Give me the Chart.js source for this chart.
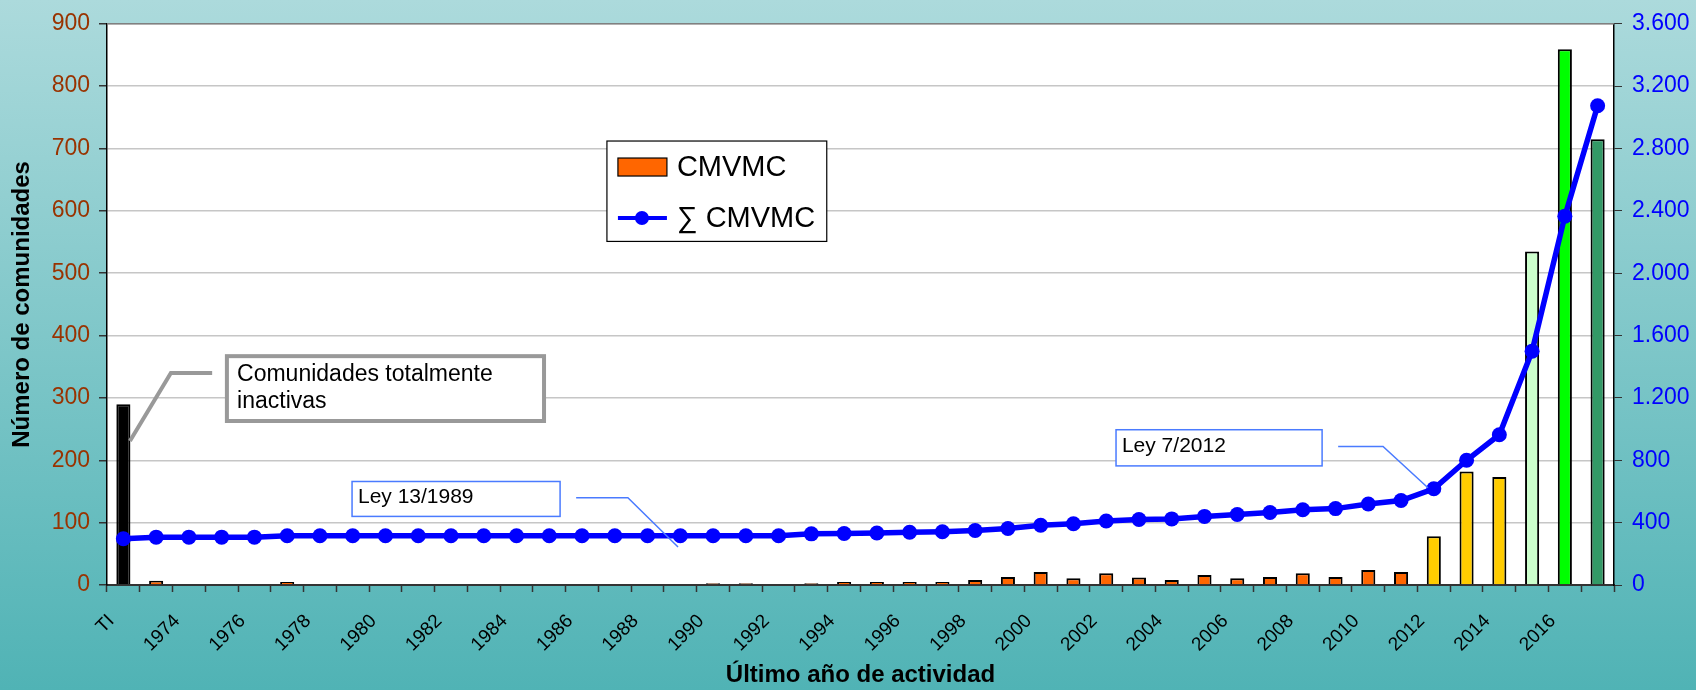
<!DOCTYPE html>
<html>
<head>
<meta charset="utf-8">
<script src="https://cdn.jsdelivr.net/npm/chart.js@4.4.0/dist/chart.umd.min.js"></script>
<style>
    html, body { margin: 0; padding: 0; }
</style>
</head>
<body>
<canvas id="chartCMVMC" width="1696" height="690"></canvas>
<script>
// datos
var categorias = ['TI', '1973', '1974', '1975', '1976', '1977', '1978', '1979', '1980', '1981',
    '1982', '1983', '1984', '1985', '1986', '1987', '1988', '1989', '1990', '1991',
    '1992', '1993', '1994', '1995', '1996', '1997', '1998', '1999', '2000', '2001',
    '2002', '2003', '2004', '2005', '2006', '2007', '2008', '2009', '2010', '2011',
    '2012', '2013', '2014', '2015', '2016', '2017'];

var cmvmc = [290, 7, 0, 0, 0, 5, 0, 0, 0, 0,
    0, 0, 0, 0, 0, 0, 0, 0, 3, 3,
    0, 3, 5, 5, 5, 5, 8, 13, 21, 11,
    19, 12, 8, 16, 11, 13, 19, 13, 24, 21,
    78, 182, 173, 535, 859, 715];

var sumaCmvmc = [297, 307, 307, 307, 307, 316, 316, 316, 316, 316,
    316, 316, 316, 316, 316, 316, 316, 316, 316, 316,
    316, 328, 330, 334, 338, 342, 350, 362, 383, 393,
    411, 420, 424, 440, 452, 465, 483, 490, 520, 542,
    617, 800, 964, 1500, 2366, 3074];

var ticksIzq = [0, 100, 200, 300, 400, 500, 600, 700, 800, 900];
var ticksDer = [0, 400, 800, 1200, 1600, 2000, 2400, 2800, 3200, 3600];

// colores de las barras segun la categoria
function colorBarra(cat) {
    if (cat === 'TI') return '#000000';
    if (cat === '2015') return '#CCFFCC';
    if (cat === '2016') return '#00FF00';
    if (cat === '2017') return '#339966';
    if (cat === '2012' || cat === '2013' || cat === '2014') return '#FFCC00';
    return '#FF6600';
}

var fuente = "'Liberation Sans', Arial, sans-serif";
Chart.defaults.font.family = fuente;

var fondo = {
    id: 'fondo',
    beforeDraw: function (chart) {
        var ctx = chart.ctx, a = chart.chartArea;
        var g = ctx.createLinearGradient(0, 0, 0, chart.height);
        g.addColorStop(0, '#acdadc');
        g.addColorStop(1, '#50b3b5');
        ctx.save();
        ctx.fillStyle = g;
        ctx.fillRect(0, 0, chart.width, chart.height);
        ctx.fillStyle = '#ffffff';
        ctx.fillRect(a.left, a.top, a.right - a.left, a.bottom - a.top);
        ctx.restore();
    },
    afterDraw: function (chart) {
        var ctx = chart.ctx, a = chart.chartArea;
        ctx.save();
        ctx.strokeStyle = '#808080';
        ctx.lineWidth = 1.5;
        ctx.beginPath();
        ctx.moveTo(a.left, a.top);
        ctx.lineTo(a.right, a.top);
        ctx.stroke();
        ctx.restore();
    }
};

// cuadros de texto, flechas y leyenda
var notas = {
    id: 'notas',
    afterDatasetsDraw: function (chart) {
        var ctx = chart.ctx;
        var sx = chart.scales.x, sy = chart.scales.y;
        var P = function (i, v) { return [sx.getPixelForValue(i), sy.getPixelForValue(v)]; };
        ctx.save();

        // Comunidades totalmente inactivas
        var a = P(3.16, 367), b = P(12.84, 263);
        ctx.fillStyle = '#ffffff';
        ctx.fillRect(a[0], a[1], b[0] - a[0], b[1] - a[1]);
        ctx.strokeStyle = '#999999';
        ctx.lineWidth = 4;
        ctx.strokeRect(a[0], a[1], b[0] - a[0], b[1] - a[1]);
        var l1 = P(2.71, 340), l2 = P(1.45, 340), l3 = P(0.2, 231);
        ctx.beginPath();
        ctx.moveTo(l1[0], l1[1]); ctx.lineTo(l2[0], l2[1]); ctx.lineTo(l3[0], l3[1]);
        ctx.stroke();
        ctx.fillStyle = '#000000';
        ctx.font = '23px ' + fuente;
        ctx.textBaseline = 'alphabetic';
        var t = P(3.47, 327);
        ctx.fillText('Comunidades totalmente', t[0], t[1]);
        t = P(3.47, 284);
        ctx.fillText('inactivas', t[0], t[1]);

        // Ley 13/1989 y Ley 7/2012
        var leyes = [
            { txt: 'Ley 13/1989', c1: [6.98, 166], c2: [13.33, 110], t: [7.16, 132],
              f: [[13.82, 140], [15.4, 140], [16.93, 61]] },
            { txt: 'Ley 7/2012', c1: [30.3, 249], c2: [36.59, 191], t: [30.48, 214],
              f: [[37.08, 222], [38.45, 222], [39.82, 156]] }
        ];
        leyes.forEach(function (n) {
            var p1 = P(n.c1[0], n.c1[1]), p2 = P(n.c2[0], n.c2[1]);
            ctx.fillStyle = '#ffffff';
            ctx.fillRect(p1[0], p1[1], p2[0] - p1[0], p2[1] - p1[1]);
            ctx.strokeStyle = '#4a7bff';
            ctx.lineWidth = 1.5;
            ctx.strokeRect(p1[0], p1[1], p2[0] - p1[0], p2[1] - p1[1]);
            ctx.beginPath();
            n.f.forEach(function (q, k) {
                var p = P(q[0], q[1]);
                k === 0 ? ctx.moveTo(p[0], p[1]) : ctx.lineTo(p[0], p[1]);
            });
            ctx.stroke();
            var pt = P(n.t[0], n.t[1]);
            ctx.fillStyle = '#000000';
            ctx.font = '21px ' + fuente;
            ctx.fillText(n.txt, pt[0], pt[1]);
        });

        // leyenda
        var ds = chart.data.datasets;
        var g1 = P(14.76, 712), g2 = P(21.47, 551);
        ctx.fillStyle = '#ffffff';
        ctx.fillRect(g1[0], g1[1], g2[0] - g1[0], g2[1] - g1[1]);
        ctx.strokeStyle = '#000000';
        ctx.lineWidth = 1.2;
        ctx.strokeRect(g1[0], g1[1], g2[0] - g1[0], g2[1] - g1[1]);
        var x0 = g1[0] + 11, y1 = g1[1] + 26, y2 = g1[1] + 77;
        ctx.fillStyle = '#FF6600';
        ctx.fillRect(x0, y1 - 9, 49, 18);
        ctx.lineWidth = 1.2;
        ctx.strokeRect(x0, y1 - 9, 49, 18);
        ctx.strokeStyle = ds[1].borderColor;
        ctx.lineWidth = 4;
        ctx.beginPath();
        ctx.moveTo(x0, y2); ctx.lineTo(x0 + 49, y2);
        ctx.stroke();
        ctx.fillStyle = ds[1].borderColor;
        ctx.beginPath();
        ctx.arc(x0 + 24, y2, 7, 0, Math.PI * 2);
        ctx.fill();
        ctx.fillStyle = '#000000';
        ctx.font = '29px ' + fuente;
        ctx.textBaseline = 'middle';
        ctx.fillText(ds[0].label, x0 + 59, y1 + 1);
        ctx.fillText(ds[1].label, x0 + 59, y2 + 1);
        ctx.restore();
    }
};

function miles(v) {
    return v.toString().replace(/\B(?=(\d{3})+(?!\d))/g, '.');
}

var cmc = document.getElementById('chartCMVMC');
var chartCMVMC = new Chart(cmc, {
    plugins: [fondo, notas],
    data: {
        labels: categorias,
        datasets: [
            {
                type: 'bar',
                label: 'CMVMC',
                data: cmvmc,
                backgroundColor: categorias.map(colorBarra),
                borderColor: '#000000',
                borderWidth: 2,
                barPercentage: 0.43,
                categoryPercentage: 1,
                yAxisID: 'y',
                order: 2
            },
            {
                type: 'line',
                label: '\u2211 CMVMC',
                data: sumaCmvmc,
                borderColor: '#0000FF',
                backgroundColor: '#0000FF',
                borderWidth: 5.5,
                pointRadius: 7.5,
                pointBorderWidth: 0,
                pointBackgroundColor: '#0000FF',
                tension: 0,
                yAxisID: 'y2',
                order: 1
            }
        ]
    },
    options: {
        responsive: false,
        animation: false,
        devicePixelRatio: 1,
        layout: { padding: { top: 21, left: 0, right: 0, bottom: 0 } },
        plugins: {
            legend: { display: false },
            tooltip: { enabled: false }
        },
        scales: {
            x: {
                offset: true,
                grid: { offset: true, drawOnChartArea: false, tickLength: 7, tickColor: '#333333', tickWidth: 1.5 },
                border: { color: '#333333', width: 2 },
                ticks: {
                    autoSkip: false,
                    minRotation: 45,
                    maxRotation: 45,
                    color: '#000000',
                    font: { size: 19 },
                    padding: 18,
                    labelOffset: -12,
                    callback: function (v, i) { return i % 2 === 0 ? this.getLabelForValue(v) : ''; }
                },
                title: {
                    display: true,
                    text: 'Último año de actividad',
                    color: '#000000',
                    font: { size: 24, weight: 'bold' },
                    padding: { top: 0, bottom: 0 }
                },
                afterFit: function (s) { s.height = 105; }
            },
            y: {
                position: 'left',
                min: 0,
                max: 900,
                afterBuildTicks: function (s) { s.ticks = ticksIzq.map(function (v) { return { value: v }; }); },
                grid: { color: '#c6c6c6', lineWidth: 1.5, tickLength: 8, tickColor: '#333333' },
                border: { color: '#000000', width: 1.5 },
                ticks: { color: '#993300', font: { size: 23 }, padding: 9 },
                title: {
                    display: true,
                    text: 'Número de comunidades',
                    color: '#000000',
                    font: { size: 24, weight: 'bold' },
                    padding: { top: 8, bottom: 0 }
                },
                afterFit: function (s) { s.width = 107; }
            },
            y2: {
                position: 'right',
                min: 0,
                max: 3600,
                afterBuildTicks: function (s) { s.ticks = ticksDer.map(function (v) { return { value: v }; }); },
                grid: { drawOnChartArea: false, tickLength: 8, tickColor: '#333333' },
                border: { color: '#000000', width: 1.5 },
                ticks: { color: '#0000FF', font: { size: 23 }, padding: 10, callback: function (v) { return miles(v); } },
                afterFit: function (s) { s.width = 82; }
            }
        }
    }
});
</script>
</body>
</html>
